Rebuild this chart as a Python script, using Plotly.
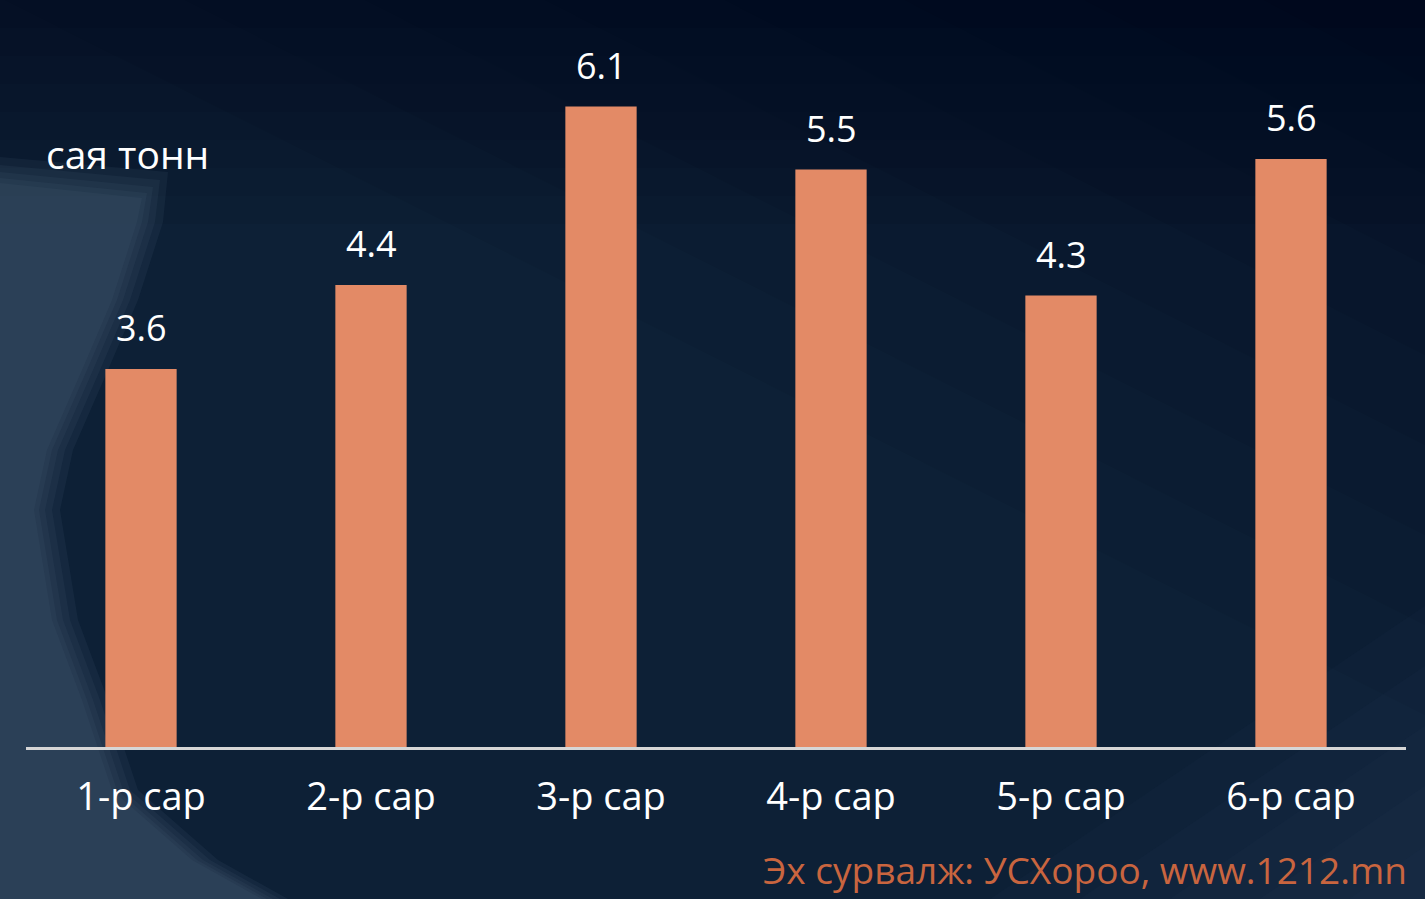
import plotly.graph_objects as go

categories = ["1-р сар", "2-р сар", "3-р сар", "4-р сар", "5-р сар", "6-р сар"]
values = [3.6, 4.4, 6.1, 5.5, 4.3, 5.6]
value_labels = ["3.6", "4.4", "6.1", "5.5", "4.3", "5.6"]
unit_label = "сая тонн"
source_label = "Эх сурвалж: УСХороо, www.1212.mn"

W, H = 1425, 899
L, R, T, B = 26, 19, 0, 152
PW, PH = W - L - R, H - T - B

def px(x):
    return (x - L) / PW

def py(y):
    return (H - B - y) / PH

FONT = "Open Sans"
BAR = "#E38A66"

fig = go.Figure()
fig.add_trace(go.Bar(
    x=categories, y=values, width=0.31,
    marker=dict(color=BAR, line=dict(width=0)),
    hoverinfo="skip",
))

annotations = []
for c, v, t in zip(categories, values, value_labels):
    annotations.append(dict(
        x=c, y=v, xref="x", yref="y", text=t, showarrow=False,
        yanchor="bottom", yshift=15,
        font=dict(family=FONT, size=36, color="#ffffff"),
    ))
annotations.append(dict(
    x=px(44), y=py(153), xref="paper", yref="paper", text=unit_label,
    showarrow=False, xanchor="left", yanchor="middle",
    font=dict(family=FONT, size=39, color="#ffffff"),
))
annotations.append(dict(
    x=px(1408), y=py(896), xref="paper", yref="paper", text=source_label,
    showarrow=False, xanchor="right", yanchor="bottom", borderpad=0,
    font=dict(family=FONT, size=37, color="#C9653F"),
))

def path(pts):
    return "M " + " L ".join(f"{px(x):.5f},{py(y):.5f}" for x, y in pts) + " Z"

shapes = []
# soft darkening toward the top / top-right
for k in range(1, 9):
    shapes.append(dict(type="rect", xref="paper", yref="paper",
                       x0=px(-10), x1=px(W + 10), y0=py(-10), y1=py(28 * k),
                       fillcolor="rgba(0,8,22,0.06)", line=dict(width=0), layer="below"))
for k in range(1, 9):
    shapes.append(dict(type="path", xref="paper", yref="paper",
                       path=path([(W + 10, -10), (W + 10, 90 * k), (W - 180 * k, -10)]),
                       fillcolor="rgba(0,8,22,0.05)", line=dict(width=0), layer="below"))
# lighter corner bottom-right
for k in range(1, 6):
    shapes.append(dict(type="path", xref="paper", yref="paper",
                       path=path([(W + 10, H + 10), (W + 10, H - 60 * k), (W - 90 * k, H + 10)]),
                       fillcolor="rgba(60,85,110,0.05)", line=dict(width=0), layer="below"))

# lighter band on the left, built from soft nested layers
band_top = [(0, 185), (140, 200)]
band_edge = [(135, 222), (110, 300), (80, 370), (45, 450), (32, 510),
             (50, 620), (80, 700), (110, 790), (190, 860), (260, 899)]
for d in (28, 20, 13, 7, 2):
    pts = [(x, y - d) for x, y in band_top[:1]] + [(band_top[1][0] + d, band_top[1][1] - d)]
    pts += [(x + d, y) for x, y in band_edge]
    pts += [(band_edge[-1][0] + d, H + 10), (-10, H + 10), (-10, band_top[0][1] - d)]
    shapes.append(dict(type="path", xref="paper", yref="paper", path=path(pts),
                       fillcolor="rgba(80,100,125,0.13)", line=dict(width=0), layer="below"))

fig.update_layout(
    width=W, height=H,
    margin=dict(l=L, r=R, t=T, b=B),
    paper_bgcolor="#0d2036",
    plot_bgcolor="rgba(0,0,0,0)",
    showlegend=False,
    annotations=annotations,
    shapes=shapes,
    xaxis=dict(
        range=[-0.5, 5.5], showgrid=False, zeroline=False,
        showline=True, linecolor="#d6d6d6", linewidth=3,
        ticks="", ticklabelstandoff=14,
        tickfont=dict(family=FONT, size=38, color="#ffffff"),
        fixedrange=True,
    ),
    yaxis=dict(
        range=[0, PH / 105.0], showgrid=False, zeroline=False,
        showticklabels=False, showline=False, fixedrange=True,
    ),
)

fig.write_html(
    "out.html",
    config={"displayModeBar": False},
    post_script="document.body.style.margin='0';document.body.style.overflow='hidden';",
)
